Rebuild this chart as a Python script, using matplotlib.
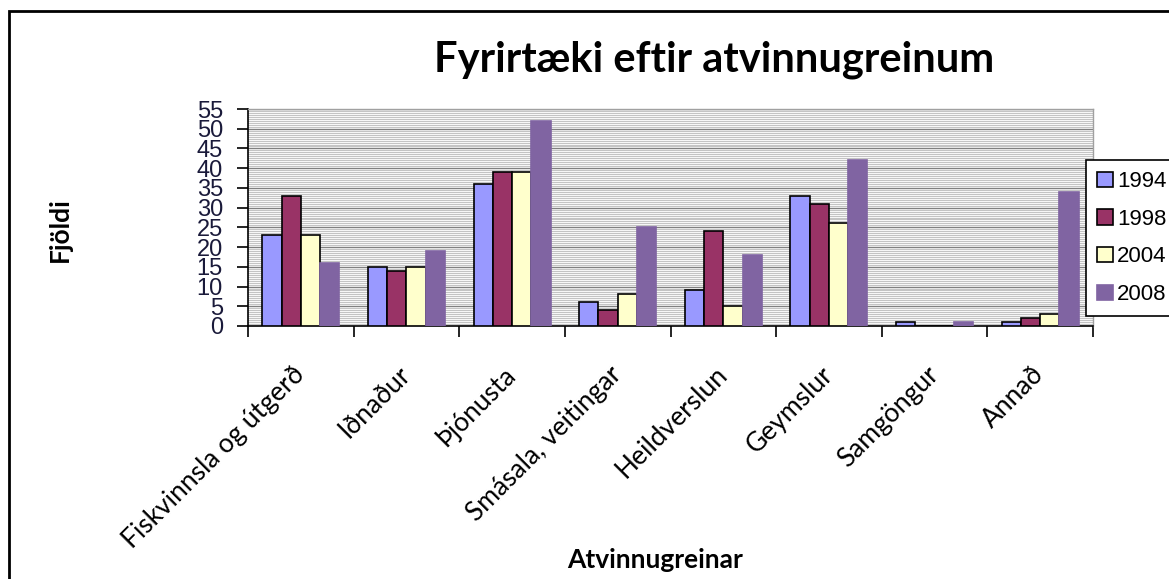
import numpy as np
import matplotlib.pyplot as plt
from matplotlib.patches import Rectangle

# data
categories = ['Fiskvinnsla og útgerð', 'Iðnaður', 'Þjónusta', 'Smásala, veitingar',
              'Heildverslun', 'Geymslur', 'Samgöngur', 'Annað']
years = ['1994', '1998', '2004', '2008']
v1994 = [23, 15, 36, 6, 9, 33, 1, 1]
v1998 = [33, 14, 39, 4, 24, 31, 0, 2]
v2004 = [23, 15, 39, 8, 5, 26, 0, 3]
v2008 = [16, 19, 52, 25, 18, 42, 1, 34]

colors = ['#9999FF', '#993366', '#FFFFCC', '#8064A2']
edges = ['black', 'black', 'black', '#8064A2']

fig = plt.figure(figsize=(11.69, 5.79), dpi=100)
ax = fig.add_axes([248 / 1169, 1 - 326 / 579, 845 / 1169, 217 / 579])

x = np.arange(len(categories))
w = 0.182
for i, vals in enumerate([v1994, v1998, v2004, v2008]):
    ax.bar(x + (i - 1.5) * w, vals, w, color=colors[i], edgecolor=edges[i],
           linewidth=1.2, label=years[i], zorder=3)

ax.set_xlim(-0.5, len(categories) - 0.5)
ax.set_ylim(0, 55)

# stripy background + major grid every 5
ax.set_yticks(np.arange(0, 56, 5))
ax.set_yticks(np.arange(0, 55, 0.5), minor=True)
ax.grid(axis='y', which='minor', color='#c4c4c4', linewidth=0.8, zorder=0)
ax.grid(axis='y', which='major', color='#808080', linewidth=1.0, zorder=1)
ax.tick_params(axis='y', which='minor', length=0)
ax.tick_params(axis='y', which='major', direction='out', length=8, width=1.2,
               labelsize=17, pad=10, labelcolor='#1a1a3a')
for t in ax.get_yticklabels():
    t.set_fontfamily('Liberation Sans')

# x ticks at the group boundaries, labels at group centres
ax.set_xticks(np.arange(-0.5, len(categories), 1))
ax.set_xticklabels([])
ax.set_xticks(x, minor=True)
ax.set_xticklabels(categories, minor=True, rotation=45, ha='right', va='center',
                   rotation_mode='anchor', fontsize=19, fontfamily='Lato')
ax.tick_params(axis='x', which='major', direction='out', length=8, width=1.2)
ax.tick_params(axis='x', which='minor', length=0, pad=32)

for s in ['left', 'bottom']:
    ax.spines[s].set_color('black')
    ax.spines[s].set_linewidth(1.2)
for s in ['top', 'right']:
    ax.spines[s].set_color('#a0a0a0')
    ax.spines[s].set_linewidth(1.0)

fig.text(714 / 1169, 1 - 60 / 579, 'Fyrirtæki eftir atvinnugreinum', ha='center',
         va='center', fontsize=30, fontweight='bold', fontfamily='Lato')
fig.text(655 / 1169, 1 - 560 / 579, 'Atvinnugreinar', ha='center', va='center',
         fontsize=19, fontweight='bold', fontfamily='Lato')
fig.text(60 / 1169, 1 - 230 / 579, 'Fjöldi', ha='center', va='center', rotation=90,
         fontsize=19, fontweight='bold', fontfamily='Lato')

leg = fig.legend(loc='upper left', bbox_to_anchor=(1086 / 1169, 1 - 160 / 579),
                 borderaxespad=0, prop={'family': 'Liberation Sans', 'size': 16},
                 fancybox=False, edgecolor='black', framealpha=1,
                 handlelength=0.7, handleheight=0.7, handletextpad=0.2,
                 labelspacing=0.75, borderpad=0.5)
leg.get_frame().set_linewidth(1.2)

# outer chart frame (right/bottom edges fall outside the picture)
fig.patches.append(Rectangle((9 / 1169, -0.1), 1.2, 1 - 11 / 579 + 0.1,
                             transform=fig.transFigure, fill=False,
                             edgecolor='black', linewidth=2))

plt.savefig('out.png', dpi=100)
